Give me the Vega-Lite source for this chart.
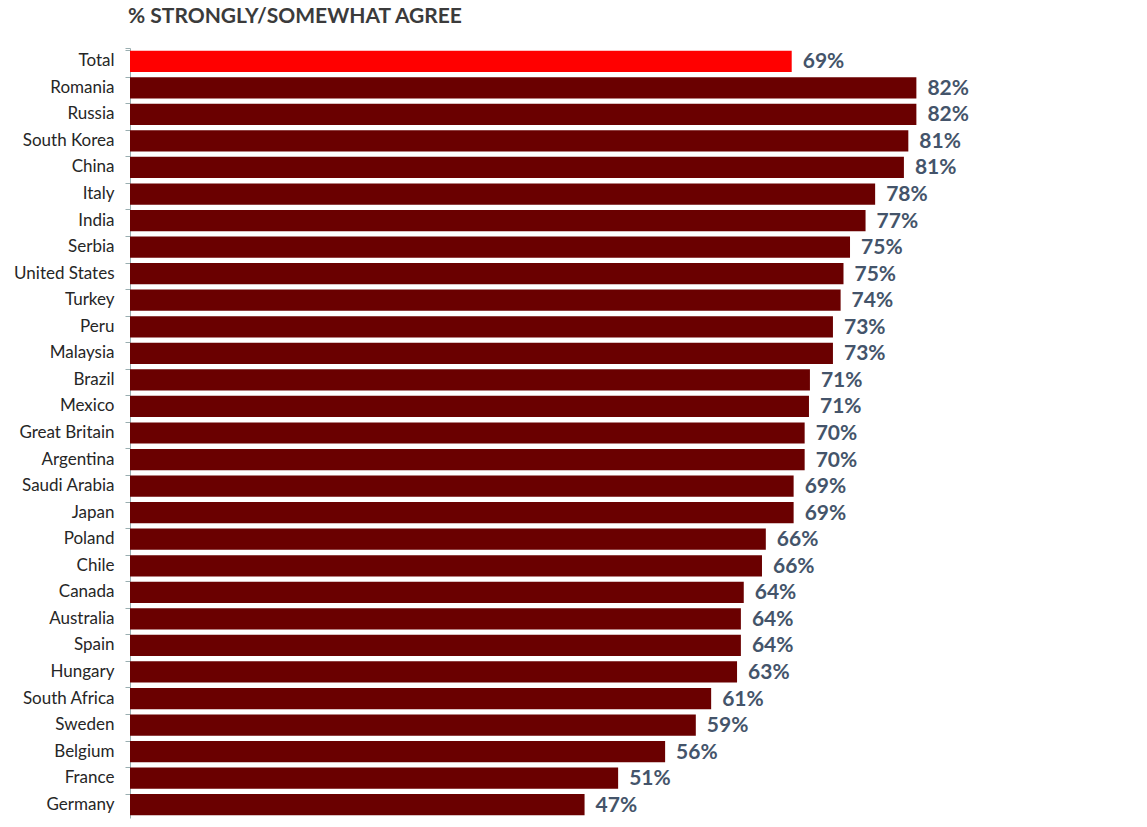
{
  "$schema": "https://vega.github.io/schema/vega-lite/v6.json",
  "width": 959,
  "height": 770,
  "autosize": "none",
  "padding": {"left": 130, "top": 48, "right": 58, "bottom": 9},
  "background": "white",
  "title": {
    "text": "% STRONGLY/SOMEWHAT AGREE",
    "anchor": "start",
    "frame": "group",
    "offset": 12,
    "dx": -2,
    "font": "Lato",
    "fontSize": 21,
    "fontWeight": "bold",
    "color": "#3b3b3b"
  },
  "config": {"view": {"stroke": null}},
  "data": {
    "values": [
      {"country": "Total", "value": 69.0, "label": "69%", "kind": "total"},
      {"country": "Romania", "value": 82.0, "label": "82%", "kind": "country"},
      {"country": "Russia", "value": 82.0, "label": "82%", "kind": "country"},
      {"country": "South Korea", "value": 81.16, "label": "81%", "kind": "country"},
      {"country": "China", "value": 80.7, "label": "81%", "kind": "country"},
      {"country": "Italy", "value": 77.7, "label": "78%", "kind": "country"},
      {"country": "India", "value": 76.7, "label": "77%", "kind": "country"},
      {"country": "Serbia", "value": 75.08, "label": "75%", "kind": "country"},
      {"country": "United States", "value": 74.4, "label": "75%", "kind": "country"},
      {"country": "Turkey", "value": 74.1, "label": "74%", "kind": "country"},
      {"country": "Peru", "value": 73.3, "label": "73%", "kind": "country"},
      {"country": "Malaysia", "value": 73.3, "label": "73%", "kind": "country"},
      {"country": "Brazil", "value": 70.9, "label": "71%", "kind": "country"},
      {"country": "Mexico", "value": 70.8, "label": "71%", "kind": "country"},
      {"country": "Great Britain", "value": 70.35, "label": "70%", "kind": "country"},
      {"country": "Argentina", "value": 70.35, "label": "70%", "kind": "country"},
      {"country": "Saudi Arabia", "value": 69.2, "label": "69%", "kind": "country"},
      {"country": "Japan", "value": 69.2, "label": "69%", "kind": "country"},
      {"country": "Poland", "value": 66.3, "label": "66%", "kind": "country"},
      {"country": "Chile", "value": 65.9, "label": "66%", "kind": "country"},
      {"country": "Canada", "value": 64.0, "label": "64%", "kind": "country"},
      {"country": "Australia", "value": 63.7, "label": "64%", "kind": "country"},
      {"country": "Spain", "value": 63.7, "label": "64%", "kind": "country"},
      {"country": "Hungary", "value": 63.3, "label": "63%", "kind": "country"},
      {"country": "South Africa", "value": 60.6, "label": "61%", "kind": "country"},
      {"country": "Sweden", "value": 59.0, "label": "59%", "kind": "country"},
      {"country": "Belgium", "value": 55.8, "label": "56%", "kind": "country"},
      {"country": "France", "value": 50.9, "label": "51%", "kind": "country"},
      {"country": "Germany", "value": 47.4, "label": "47%", "kind": "country"}
    ]
  },
  "encoding": {
    "y": {
      "field": "country",
      "type": "nominal",
      "sort": null,
      "scale": {"paddingInner": 0.2, "paddingOuter": 0.1},
      "axis": {
        "title": null,
        "bandPosition": 0,
        "tickExtra": true,
        "tickSize": 5,
        "tickColor": "#9aaeb0",
        "domainColor": "#9aaeb0",
        "labelPadding": 11,
        "labelFont": "Lato",
        "labelFontSize": 17,
        "labelColor": "#262626"
      }
    },
    "x": {
      "field": "value",
      "type": "quantitative",
      "scale": {"domain": [0, 100]},
      "axis": null
    }
  },
  "layer": [
    {
      "mark": {"type": "bar"},
      "encoding": {
        "color": {
          "field": "kind",
          "type": "nominal",
          "scale": {"domain": ["total", "country"], "range": ["#ff0000", "#6a0000"]},
          "legend": null
        }
      }
    },
    {
      "mark": {
        "type": "text",
        "align": "left",
        "baseline": "middle",
        "dx": 11,
        "dy": 1,
        "font": "Lato",
        "fontSize": 21,
        "fontWeight": "bold",
        "color": "#44546a"
      },
      "encoding": {"text": {"field": "label", "type": "nominal"}}
    }
  ]
}
